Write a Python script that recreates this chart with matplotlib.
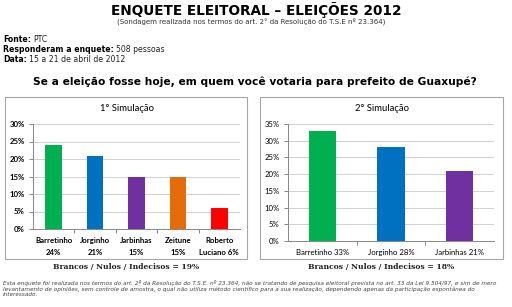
import matplotlib.pyplot as plt
from matplotlib.patches import Rectangle
from matplotlib.ticker import PercentFormatter

# dados das enquetes
sim1_labels = ['Barretinho\n24%', 'Jorginho\n21%', 'Jarbinhas\n15%', 'Zeitune\n15%', 'Roberto\nLuciano 6%']
sim1_values = [24, 21, 15, 15, 6]
sim1_colors = ['#00B050', '#0070C0', '#7030A0', '#E46C0A', '#FF0000']

sim2_labels = ['Barretinho 33%', 'Jorginho 28%', 'Jarbinhas 21%']
sim2_values = [33, 28, 21]
sim2_colors = ['#00B050', '#0070C0', '#7030A0']

brancos = [19, 18]

W, H = 512, 307
fig = plt.figure(figsize=(W / 100, H / 100), dpi=100)
fig.patch.set_facecolor('white')


def px(x, y):
    return x / W, 1 - y / H


def add_ax(x0, x1, ytop, ybot):
    l, b = px(x0, ybot)
    return fig.add_axes([l, b, (x1 - x0) / W, (ybot - ytop) / H])


# cabecalho
fig.text(*px(256, 10), 'ENQUETE ELEITORAL – ELEIÇÕES 2012', ha='center', va='center',
         fontsize=9.8, fontweight='bold', family='DejaVu Sans')
fig.text(*px(251, 21), '(Sondagem realizada nos termos do art. 2° da Resolução do T.S.E nº 23.364)',
         ha='center', va='center', fontsize=5.0, color='#333333')

info = [('Fonte:', 'PTC', 39), ('Responderam a enquete:', '508 pessoas', 49),
        ('Data:', '15 a 21 de abril de 2012', 59)]
fig.canvas.draw()
r = fig.canvas.get_renderer()
for lab, val, y in info:
    t = fig.text(*px(3, y), lab, ha='left', va='center', fontsize=5.6, fontweight='bold')
    bb = t.get_window_extent(r)
    fig.text(bb.x1 / W + 2 / W, px(0, y)[1], val, ha='left', va='center', fontsize=5.6, color='#222222')

fig.text(*px(255, 82), 'Se a eleição fosse hoje, em quem você votaria para prefeito de Guaxupé?',
         ha='center', va='center', fontsize=7.7, fontweight='bold')

# caixas
for x0, x1 in [(5, 247), (260, 503)]:
    l, b = px(x0, 259)
    fig.patches.append(Rectangle((l, b), (x1 - x0) / W, 162 / H, transform=fig.transFigure,
                                 fill=False, edgecolor='#A6A6A6', linewidth=0.8))


def bar_chart(ax, labels, values, colors, ymax, title, title_x, bold):
    xs = range(len(values))
    ax.bar(xs, values, width=0.4, color=colors, zorder=3)
    ax.set_xlim(-0.5, len(values) - 0.5)
    ax.set_ylim(0, ymax)
    ax.set_yticks(range(0, ymax + 1, 5))
    ax.yaxis.set_major_formatter(PercentFormatter(decimals=0))
    ax.grid(axis='y', color='#D0D0D0', linewidth=0.7, zorder=0)
    for s in ['top', 'right']:
        ax.spines[s].set_visible(False)
    for s in ['left', 'bottom']:
        ax.spines[s].set_color('#868686')
        ax.spines[s].set_linewidth(0.7)
    ax.set_xticks([i + 0.5 for i in range(len(values) - 1)], minor=True)
    ax.set_xticks(list(xs))
    ax.set_xticklabels(labels, family='Lato', fontsize=5.6,
                       fontweight='bold' if bold else 'normal', linespacing=1.8)
    ax.tick_params(axis='x', which='major', length=0, pad=6)
    ax.tick_params(axis='x', which='minor', length=3, color='#868686', width=0.7)
    ax.tick_params(axis='y', length=3, color='#868686', width=0.7, labelsize=5.6, pad=3)
    for t in ax.get_yticklabels():
        t.set_family('Lato')
        if bold:
            t.set_fontweight('bold')
    fig.text(*px(title_x, 109), title, ha='center', va='center', family='Lato', fontsize=6.8)


ax1 = add_ax(33, 240, 124, 229)
bar_chart(ax1, sim1_labels, sim1_values, sim1_colors, 30, '1° Simulação', 127, True)
ax2 = add_ax(288, 494, 124, 241)
bar_chart(ax2, sim2_labels, sim2_values, sim2_colors, 35, '2° Simulação', 382, False)

for x, v in zip([126, 381], brancos):
    fig.text(*px(x, 267), 'Brancos / Nulos / Indecisos = %d%%' % v, ha='center', va='center',
             fontsize=5.5, fontweight='bold', family='DejaVu Serif', color='#222222')

nota = ['Esta enquete foi realizada nos termos do art. 2º da Resolução do T.S.E. nº 23.364, não se tratando de pesquisa eleitoral prevista no art. 33 da Lei 9.504/97, e sim de mero',
        'levantamento de opiniões, sem controle de amostra, o qual não utiliza método científico para a sua realização, dependendo apenas da participação espontânea do',
        'interessado.']
for i, linha in enumerate(nota):
    fig.text(*px(3, 283 + i * 6), linha, ha='left', va='center', fontsize=4.13,
             style='italic', color='#444444')

fig.savefig('out.png', dpi=100, facecolor='white')
